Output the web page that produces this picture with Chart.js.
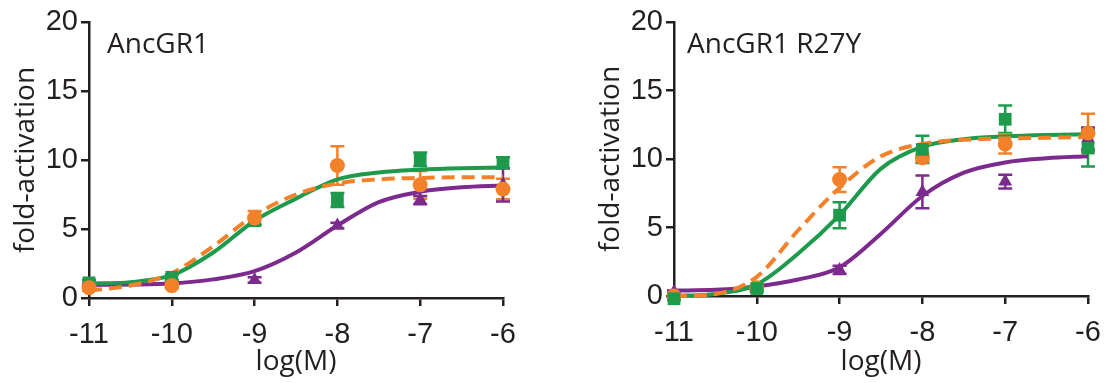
<!DOCTYPE html>
<html>
<head>
<meta charset="utf-8">
<script src="https://cdn.jsdelivr.net/npm/chart.js@4"></script>
<style>
body { margin: 0; background: #fff; width: 1109px; height: 383px; overflow: hidden; position: relative; }
canvas { position: absolute; top: 0; }
#left { left: 0; }
#right { left: 585px; }
</style>
</head>
<body>
<canvas id="left" width="524" height="383"></canvas>
<canvas id="right" width="524" height="383"></canvas>
<script>
const doses = [-11, -10, -9, -8, -7, -6];
const fitX = [-11, -10.5, -10, -9.5, -9, -8.5, -8, -7.5, -7, -6.5, -6];
const xTicks = [-11, -10, -9, -8, -7, -6];
const yTicks = [0, 5, 10, 15, 20];

// AncGR1
const wtOrange = [0.75, 0.9, 5.8, 9.6, 8.2, 7.9];
const wtOrangeErr = [0.2, 0.2, 0.5, 1.4, 1.0, 0.75];
const wtGreen = [1.1, 1.5, 5.6, 7.1, 10.05, 9.8];
const wtGreenErr = [0.2, 0.2, 0.3, 0.5, 0.5, 0.4];
const wtPurple = [0.95, 1.0, 1.3, 5.25, 7.1, 8.2];
const wtPurpleErr = [0.1, 0.1, 0.2, 0.2, 0.3, 1.2];
const wtOrangeFit = [0.55, 0.9, 1.8, 3.75, 6.0, 7.5, 8.3, 8.6, 8.7, 8.75, 8.75];
const wtGreenFit = [1.05, 1.15, 1.65, 3.3, 5.6, 7.2, 8.6, 9.1, 9.3, 9.4, 9.45];
const wtPurpleFit = [0.95, 0.97, 1.05, 1.35, 1.95, 3.3, 5.25, 6.95, 7.7, 8.02, 8.15];

// AncGR1 R27Y
const mutOrange = [0.0, 0.6, 8.5, 10.1, 11.1, 11.9];
const mutOrangeErr = [0.1, 0.2, 0.9, 0.3, 0.7, 1.4];
const mutGreen = [-0.2, 0.55, 5.9, 10.7, 12.9, 10.8];
const mutGreenErr = [0.1, 0.2, 0.95, 1.0, 1.0, 1.35];
const mutPurple = [0.3, 0.5, 1.9, 7.6, 8.35, 11.5];
const mutPurpleErr = [0.1, 0.1, 0.3, 1.2, 0.5, 0.8];
const mutOrangeFit = [0.0, 0.15, 1.4, 4.8, 7.9, 10.2, 11.1, 11.4, 11.5, 11.55, 11.6];
const mutGreenFit = [0.0, 0.15, 0.85, 3.1, 5.9, 9.3, 10.9, 11.45, 11.65, 11.75, 11.8];
const mutPurpleFit = [0.4, 0.45, 0.7, 1.2, 2.1, 4.55, 7.3, 9.0, 9.75, 10.05, 10.2];

const ink = '#231f20';
const orange = '#f3812a';
const green = '#1d9a4b';
const purple = '#7d2a8e';
const tickFont = { family: '"Liberation Sans", Arial, sans-serif', size: 29 };
const titleFont = { family: '"Open Sans", sans-serif', size: 28 };

const errorBars = {
  id: 'errorBars',
  beforeDatasetsDraw(chart) {
    const ctx = chart.ctx;
    const xs = chart.scales.x, ys = chart.scales.y;
    chart.data.datasets.forEach(ds => {
      if (!ds.errors) return;
      ctx.save();
      ctx.strokeStyle = ds.borderColor;
      ctx.lineWidth = 2.5;
      ds.data.forEach((p, i) => {
        const x = xs.getPixelForValue(p.x);
        const top = ys.getPixelForValue(p.y + ds.errors[i]);
        const bot = ys.getPixelForValue(p.y - ds.errors[i]);
        ctx.beginPath();
        ctx.moveTo(x, top); ctx.lineTo(x, bot);
        ctx.moveTo(x - 7, top); ctx.lineTo(x + 7, top);
        ctx.moveTo(x - 7, bot); ctx.lineTo(x + 7, bot);
        ctx.stroke();
      });
      ctx.restore();
    });
  }
};

const panelTitle = {
  id: 'panelTitle',
  afterDraw(chart, args, opts) {
    const ctx = chart.ctx;
    ctx.save();
    ctx.font = '28px "Open Sans", sans-serif';
    ctx.fillStyle = ink;
    ctx.textBaseline = 'alphabetic';
    ctx.fillText(opts.text, chart.chartArea.left + opts.dx, chart.chartArea.top + 31);
    ctx.restore();
  }
};

function pts(xs, ys) {
  return xs.map((x, i) => ({ x: x, y: ys[i] }));
}

function markers(vals, errs, color, style, radius) {
  return {
    data: pts(doses, vals), errors: errs, showLine: false,
    borderColor: color, backgroundColor: color,
    pointStyle: style, pointRadius: radius, pointBorderWidth: 0, clip: false
  };
}

function fit(vals, color, dash) {
  return {
    data: pts(fitX, vals), borderColor: color, backgroundColor: color,
    borderWidth: 4, borderDash: dash, pointRadius: 0,
    cubicInterpolationMode: 'monotone', clip: false
  };
}

function makeChart(id, title, dx, xHeight, points, fits) {
  new Chart(document.getElementById(id), {
    type: 'line',
    data: { datasets: points.concat(fits) },
    plugins: [errorBars, panelTitle],
    options: {
      responsive: false,
      animation: false,
      layout: { padding: { top: 22, right: 21, left: 0, bottom: 0 } },
      plugins: {
        legend: { display: false },
        tooltip: { enabled: false },
        panelTitle: { text: title, dx: dx }
      },
      scales: {
        x: {
          type: 'linear', min: -11, max: -6,
          afterBuildTicks: s => { s.ticks = xTicks.map(v => ({ value: v })); },
          afterFit: s => { s.height = xHeight; s.paddingLeft = 0; s.paddingRight = 0; },
          grid: { drawOnChartArea: false, tickLength: 8, color: ink, lineWidth: 2.5 },
          border: { color: ink, width: 2.5 },
          ticks: { font: tickFont, color: ink, padding: 12, maxRotation: 0, callback: v => String(v) },
          title: { display: true, text: 'log(M)', font: titleFont, color: ink, padding: { top: 0, bottom: 4 } }
        },
        y: {
          type: 'linear', min: 0, max: 20,
          afterBuildTicks: s => { s.ticks = yTicks.map(v => ({ value: v })); },
          afterFit: s => { s.width = 89; s.paddingTop = 0; s.paddingBottom = 0; },
          grid: { drawOnChartArea: false, tickLength: 8, color: ink, lineWidth: 2.5 },
          border: { color: ink, width: 2.5 },
          ticks: { font: tickFont, color: ink, padding: 3, callback: v => String(v) },
          title: { display: true, text: 'fold-activation', font: titleFont, color: ink, padding: { top: 9, bottom: 0 } }
        }
      }
    }
  });
}

makeChart('left', 'AncGR1', 18, 85,
  [markers(wtOrange, wtOrangeErr, orange, 'circle', 7.5),
   markers(wtGreen, wtGreenErr, green, 'rect', 9),
   markers(wtPurple, wtPurpleErr, purple, 'triangle', 8)],
  [fit(wtOrangeFit, orange, [13, 7]), fit(wtGreenFit, green, []), fit(wtPurpleFit, purple, [])]);

makeChart('right', 'AncGR1 R27Y', 13, 87,
  [markers(mutGreen, mutGreenErr, green, 'rect', 9),
   markers(mutOrange, mutOrangeErr, orange, 'circle', 7.5),
   markers(mutPurple, mutPurpleErr, purple, 'triangle', 8)],
  [fit(mutOrangeFit, orange, [13, 7]), fit(mutGreenFit, green, []), fit(mutPurpleFit, purple, [])]);
</script>
</body>
</html>
